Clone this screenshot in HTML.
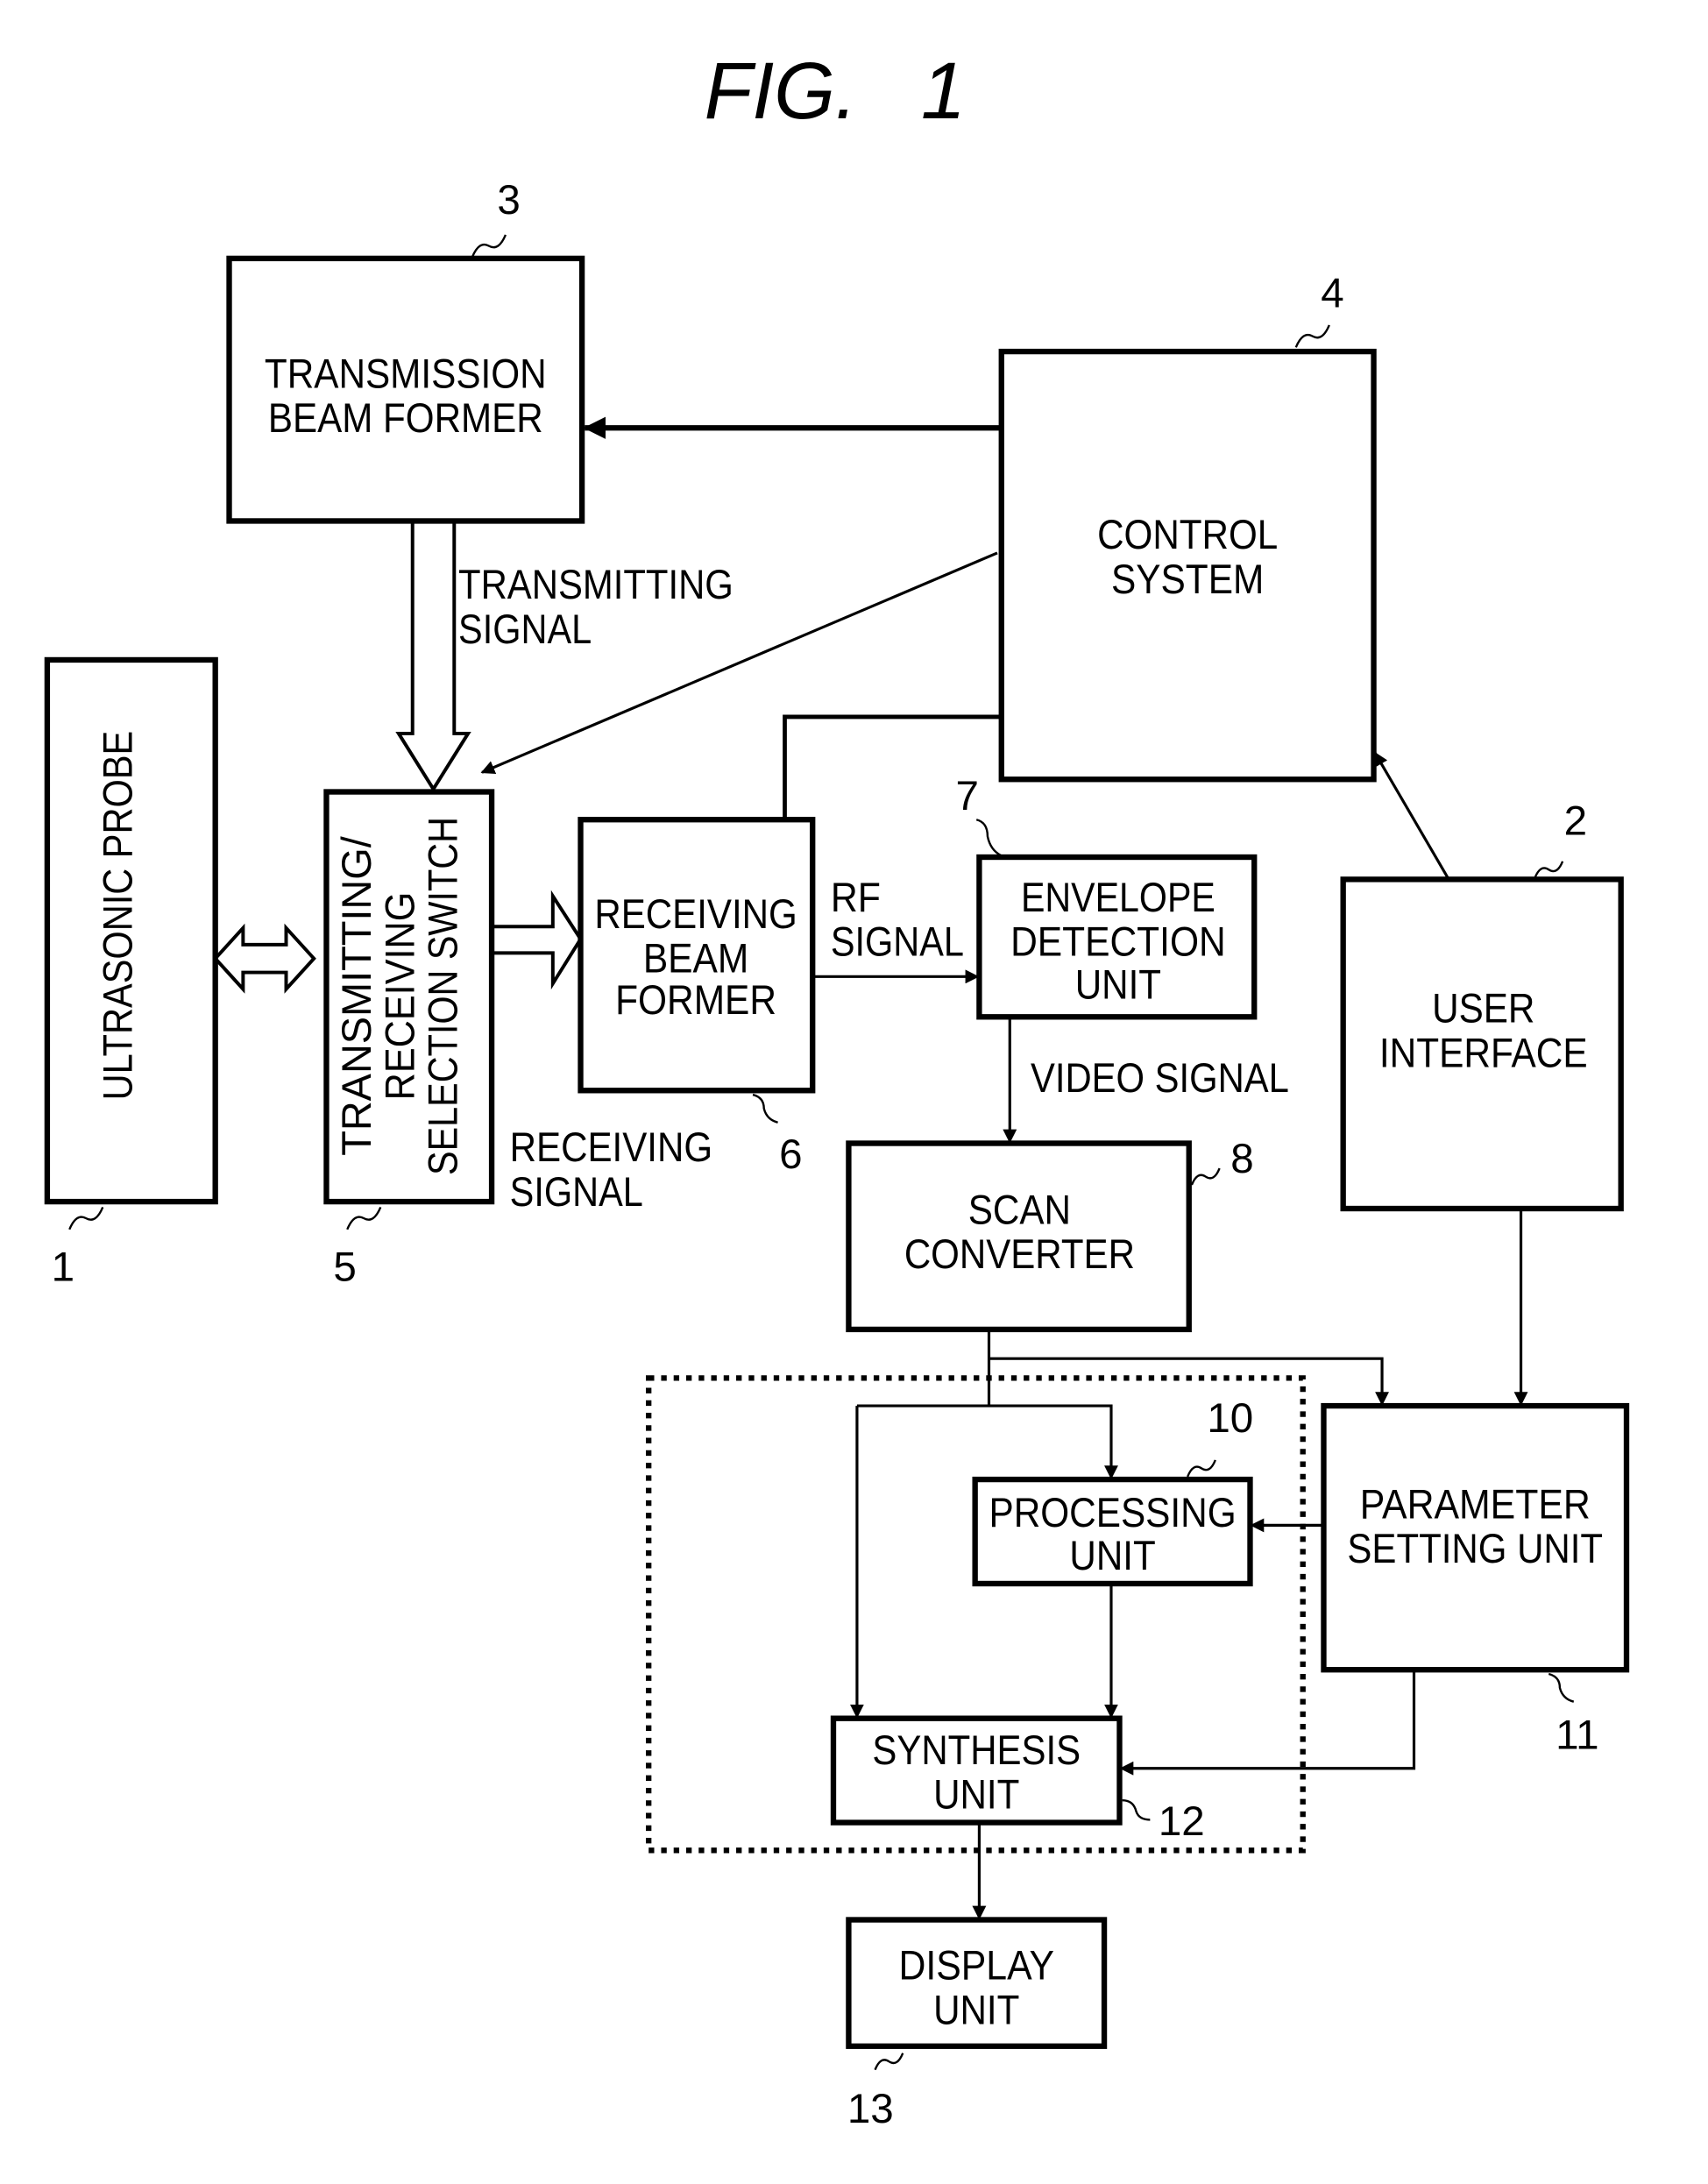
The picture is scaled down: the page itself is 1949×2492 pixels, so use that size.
<!DOCTYPE html>
<html><head><meta charset="utf-8"><style>
html,body{margin:0;padding:0;background:#fff}
svg{display:block}
text{font-family:"Liberation Sans",sans-serif;font-size:30px;fill:#000}
</style></head><body>
<svg width="1949" height="2492" viewBox="0 0 1210 1547" xmlns="http://www.w3.org/2000/svg">
<defs>
<marker id="a" markerWidth="10" markerHeight="10" refX="9" refY="5" orient="auto" markerUnits="userSpaceOnUse"><path d="M0,0 L10,5 L0,10 z" fill="#000"/></marker>
<marker id="b" markerWidth="16" markerHeight="16" refX="15" refY="8" orient="auto" markerUnits="userSpaceOnUse"><path d="M0,0 L16,8 L0,16 z" fill="#000"/></marker>
</defs>
<g transform="scale(0.984)">
<text x="507" y="85" font-style="italic" style="font-size:58px" textLength="110" lengthAdjust="spacingAndGlyphs">FIG.</text>
<text x="663" y="85" font-style="italic" style="font-size:58px">1</text>
<g fill="none" stroke="#000" stroke-width="4">
<rect x="165" y="186" width="254" height="189"/>
<rect x="721" y="253" width="268" height="308"/>
<rect x="34" y="475" width="121" height="390"/>
<rect x="235" y="570" width="119" height="295"/>
<rect x="418" y="590" width="167" height="195"/>
<rect x="705" y="617" width="198" height="115"/>
<rect x="611" y="823" width="245" height="134"/>
<rect x="967" y="633" width="200" height="237"/>
<rect x="953" y="1012" width="218" height="190"/>
<rect x="702" y="1065" width="198" height="75"/>
<rect x="600" y="1237" width="206" height="75"/>
<rect x="611" y="1382" width="184" height="91"/>
<rect x="467" y="992" width="471" height="340" stroke-dasharray="4,5" stroke-width="4"/>
</g>
<g fill="none" stroke="#000" stroke-width="3">
<line x1="721" y1="308" x2="421" y2="308" stroke-width="4" marker-end="url(#b)"/>
<path d="M297,375 V528 H287 L312,568 L337,528 H327 V375" stroke-width="2.5"/>
<line x1="718" y1="398" x2="347" y2="556" stroke-width="2" marker-end="url(#a)"/>
<path d="M155,690 L175,668 V680 H206 V668 L226,690 L206,712 V700 H175 V712 Z" stroke-width="2.5"/>
<path d="M354,667 H398 V645 L418,676 L398,708 V686 H354" stroke-width="2.5"/>
<path d="M565,590 V516 H721"/>
<line x1="585" y1="703" x2="704" y2="703" stroke-width="2" marker-end="url(#a)"/>
<line x1="727" y1="732" x2="727" y2="822" stroke-width="2" marker-end="url(#a)"/>
<line x1="1043" y1="633" x2="990" y2="542" stroke-width="2" marker-end="url(#a)"/>
<line x1="1095" y1="870" x2="1095" y2="1011" stroke-width="2" marker-end="url(#a)"/>
<path d="M712,957 V1012" stroke-width="2"/>
<path d="M712,978 H995 V1011" stroke-width="2" marker-end="url(#a)"/>
<path d="M617,1012 H800 V1064" stroke-width="2" marker-end="url(#a)"/>
<line x1="617" y1="1012" x2="617" y2="1236" stroke-width="2" marker-end="url(#a)"/>
<line x1="953" y1="1098" x2="901" y2="1098" stroke-width="2" marker-end="url(#a)"/>
<line x1="800" y1="1140" x2="800" y2="1236" stroke-width="2" marker-end="url(#a)"/>
<path d="M1018,1202 V1273 H807" stroke-width="2" marker-end="url(#a)"/>
<line x1="705" y1="1312" x2="705" y2="1381" stroke-width="2" marker-end="url(#a)"/>
<path d="M340,185 q5,-12 12,-8 q7,4 12,-8" stroke-width="1.5"/>
<path d="M933,250 q5,-12 12,-8 q7,4 12,-8" stroke-width="1.5"/>
<path d="M50,885 q5,-12 12,-8 q7,4 12,-8" stroke-width="1.5"/>
<path d="M250,885 q5,-12 12,-8 q7,4 12,-8" stroke-width="1.5"/>
<path d="M542,788 q8,2 8,10 q2,8 10,10" stroke-width="1.5"/>
<path d="M703,590 q8,2 8,12 q2,10 10,14" stroke-width="1.5"/>
<path d="M858,853 q4,-10 10,-6 q6,4 10,-6" stroke-width="1.5"/>
<path d="M1105,632 q4,-10 10,-6 q6,4 10,-6" stroke-width="1.5"/>
<path d="M855,1063 q4,-10 10,-6 q6,4 10,-6" stroke-width="1.5"/>
<path d="M1115,1205 q8,2 8,10 q2,8 10,10" stroke-width="1.5"/>
<path d="M808,1296 q8,0 10,8 q2,6 10,6" stroke-width="1.5"/>
<path d="M630,1490 q4,-10 10,-6 q6,4 10,-6" stroke-width="1.5"/>
</g>
<g text-anchor="middle">
<text x="292" y="279" textLength="203" lengthAdjust="spacingAndGlyphs">TRANSMISSION</text>
<text x="292" y="311" textLength="198" lengthAdjust="spacingAndGlyphs">BEAM FORMER</text>
<text x="855" y="395" textLength="130" lengthAdjust="spacingAndGlyphs">CONTROL</text>
<text x="855" y="427" textLength="110" lengthAdjust="spacingAndGlyphs">SYSTEM</text>
<text x="501" y="668" textLength="146" lengthAdjust="spacingAndGlyphs">RECEIVING</text>
<text x="501" y="700" textLength="76" lengthAdjust="spacingAndGlyphs">BEAM</text>
<text x="501" y="730" textLength="116" lengthAdjust="spacingAndGlyphs">FORMER</text>
<text x="805" y="656" textLength="140" lengthAdjust="spacingAndGlyphs">ENVELOPE</text>
<text x="805" y="688" textLength="155" lengthAdjust="spacingAndGlyphs">DETECTION</text>
<text x="805" y="719" textLength="62" lengthAdjust="spacingAndGlyphs">UNIT</text>
<text x="734" y="881" textLength="74" lengthAdjust="spacingAndGlyphs">SCAN</text>
<text x="734" y="913" textLength="166" lengthAdjust="spacingAndGlyphs">CONVERTER</text>
<text x="1068" y="736" textLength="74" lengthAdjust="spacingAndGlyphs">USER</text>
<text x="1068" y="768" textLength="150" lengthAdjust="spacingAndGlyphs">INTERFACE</text>
<text x="1062" y="1093" textLength="166" lengthAdjust="spacingAndGlyphs">PARAMETER</text>
<text x="1062" y="1125" textLength="184" lengthAdjust="spacingAndGlyphs">SETTING UNIT</text>
<text x="801" y="1099" textLength="178" lengthAdjust="spacingAndGlyphs">PROCESSING</text>
<text x="801" y="1130" textLength="62" lengthAdjust="spacingAndGlyphs">UNIT</text>
<text x="703" y="1270" textLength="150" lengthAdjust="spacingAndGlyphs">SYNTHESIS</text>
<text x="703" y="1302" textLength="62" lengthAdjust="spacingAndGlyphs">UNIT</text>
<text x="703" y="1425" textLength="112" lengthAdjust="spacingAndGlyphs">DISPLAY</text>
<text x="703" y="1457" textLength="62" lengthAdjust="spacingAndGlyphs">UNIT</text>
<text x="106" y="670" transform="rotate(-90 95 670)" textLength="266" lengthAdjust="spacingAndGlyphs">ULTRASONIC PROBE</text>
<g transform="rotate(-90 295 717)">
<text x="295" y="689" textLength="230" lengthAdjust="spacingAndGlyphs">TRANSMITTING/</text>
<text x="295" y="720" textLength="150" lengthAdjust="spacingAndGlyphs">RECEIVING</text>
<text x="295" y="751" textLength="258" lengthAdjust="spacingAndGlyphs">SELECTION SWITCH</text>
</g>
</g>
<text x="330" y="431" textLength="198" lengthAdjust="spacingAndGlyphs">TRANSMITTING</text>
<text x="330" y="463" textLength="96" lengthAdjust="spacingAndGlyphs">SIGNAL</text>
<text x="367" y="836" textLength="146" lengthAdjust="spacingAndGlyphs">RECEIVING</text>
<text x="367" y="868" textLength="96" lengthAdjust="spacingAndGlyphs">SIGNAL</text>
<text x="598" y="656" textLength="36" lengthAdjust="spacingAndGlyphs">RF</text>
<text x="598" y="688" textLength="96" lengthAdjust="spacingAndGlyphs">SIGNAL</text>
<text x="742" y="786" textLength="186" lengthAdjust="spacingAndGlyphs">VIDEO SIGNAL</text>
<text x="358" y="154">3</text>
<text x="951" y="221">4</text>
<text x="37" y="922">1</text>
<text x="240" y="922">5</text>
<text x="561" y="841">6</text>
<text x="688" y="583">7</text>
<text x="886" y="844">8</text>
<text x="1126" y="601">2</text>
<text x="869" y="1031">10</text>
<text x="1120" y="1259">11</text>
<text x="834" y="1321">12</text>
<text x="610" y="1528">13</text>
</g>
</svg>
</body></html>
